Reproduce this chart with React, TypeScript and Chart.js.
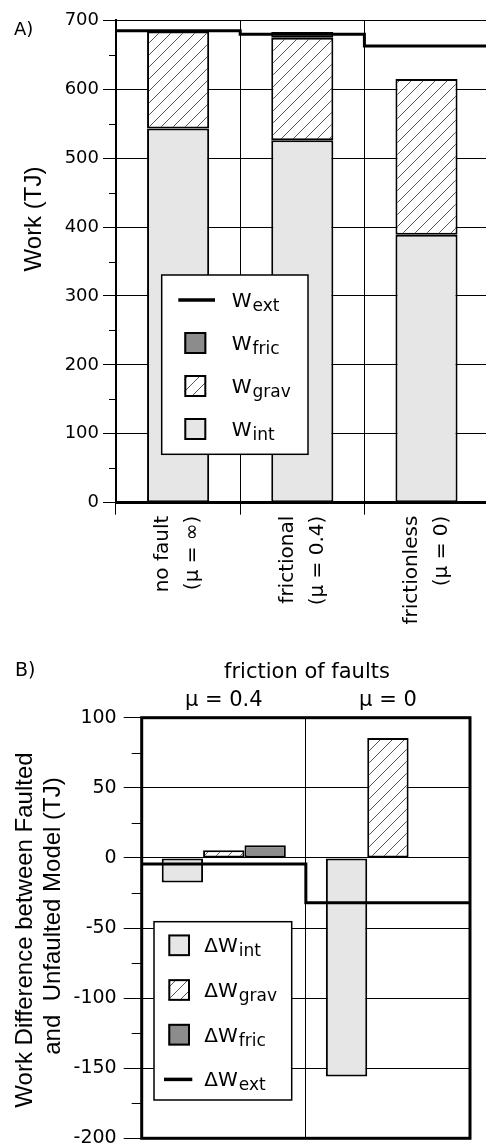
import React, { useEffect, useRef } from 'react';
import { Chart, registerables } from 'chart.js';

Chart.register(...registerables);

const FONT = "'DejaVu Sans', sans-serif";
const SANS = "'Liberation Sans', Arial, sans-serif";

// ---------- Panel A data ----------
const categoriesA = [
  ['no fault', '(μ = ∞)'],
  ['frictional', '(μ = 0.4)'],
  ['frictionless', '(μ = 0)'],
];
const wInt = [543, 526, 389];
const wGrav = [141, 149, 226];
const wFric = [null, 8, null];
const wExt = [685, 680, 663];
const minorTicksA = [50, 150, 250, 350, 450, 550, 650];
const yTitleA = 'Work (TJ)';
const panelLabelA = 'A)';

// ---------- Panel B data ----------
const categoriesB = ['μ = 0.4', 'μ = 0'];
const dInt = [-17.5, -156];
const dGrav = [5.5, 85.5];
const dFric = [9, null];
const dExt = [-4.3, -32];
const minorTicksB = [-175, -125, -75, -25, 25, 75];
const xTitleB = 'friction of faults';
const yTitleB1 = 'Work Difference between Faulted';
const yTitleB2 = 'and  Unfaulted Model (TJ)';
const panelLabelB = 'B)';

const legendA = [
  { main: 'W', sub: 'ext', kind: 'line' },
  { main: 'W', sub: 'fric', kind: 'fric' },
  { main: 'W', sub: 'grav', kind: 'grav' },
  { main: 'W', sub: 'int', kind: 'int' },
];
const legendB = [
  { main: 'ΔW', sub: 'int', kind: 'int' },
  { main: 'ΔW', sub: 'grav', kind: 'grav' },
  { main: 'ΔW', sub: 'fric', kind: 'fric' },
  { main: 'ΔW', sub: 'ext', kind: 'line' },
];

const INT_COLOR = '#e6e6e6';
const FRIC_COLOR = '#8c8c8c';

function makeHatch() {
  const c = document.createElement('canvas');
  c.width = 12;
  c.height = 12;
  const g = c.getContext('2d') as CanvasRenderingContext2D;
  g.fillStyle = '#fff';
  g.fillRect(0, 0, 12, 12);
  g.strokeStyle = '#555';
  g.lineWidth = 1;
  g.beginPath();
  g.moveTo(-1, 13);
  g.lineTo(13, -1);
  g.moveTo(-1, 1);
  g.lineTo(1, -1);
  g.moveTo(11, 13);
  g.lineTo(13, 11);
  g.stroke();
  const ctx = document.createElement('canvas').getContext('2d') as CanvasRenderingContext2D;
  return ctx.createPattern(c, 'repeat') as CanvasPattern;
}

function makeExtras(cfg: any) {
  return {
    id: 'extras',
    afterDatasetsDraw(chart: any) {
      // step line (external work) drawn through the chart's own scales
      const ctx = chart.ctx as CanvasRenderingContext2D;
      const xs = chart.scales.x;
      const ys = chart.scales.y;
      const vals: number[] = cfg.step;
      const n = vals.length;
      const half = (xs.getPixelForValue(1) - xs.getPixelForValue(0)) / 2;
      ctx.save();
      ctx.strokeStyle = '#000';
      ctx.lineWidth = 3;
      ctx.lineJoin = 'miter';
      ctx.beginPath();
      vals.forEach((v, i) => {
        const py = ys.getPixelForValue(v);
        const cx = xs.getPixelForValue(i);
        const x0 = i === 0 ? chart.chartArea.left : cx - half;
        const x1 = i === n - 1 ? chart.chartArea.right : cx + half;
        if (i === 0) ctx.moveTo(x0, py);
        else ctx.lineTo(x0, py);
        ctx.lineTo(x1, py);
      });
      ctx.stroke();
      ctx.restore();
    },
    afterDraw(chart: any) {
      const ctx = chart.ctx as CanvasRenderingContext2D;
      const area = chart.chartArea;
      const y = chart.scales.y;
      ctx.save();
      // minor ticks
      ctx.strokeStyle = '#000';
      ctx.lineWidth = 1;
      for (const v of cfg.minor) {
        const py = Math.round(y.getPixelForValue(v)) + 0.5;
        ctx.beginPath();
        ctx.moveTo(area.left - cfg.minorLen, py);
        ctx.lineTo(area.left, py);
        ctx.stroke();
      }
      // plot frame
      if (cfg.box) {
        ctx.lineWidth = cfg.box;
        ctx.strokeRect(area.left, area.top, area.right - area.left, area.bottom - area.top);
      }
      // legend
      const L = cfg.legend;
      ctx.fillStyle = '#fff';
      ctx.fillRect(L.x, L.y, L.w, L.h);
      ctx.strokeStyle = '#000';
      ctx.lineWidth = 1.5;
      ctx.strokeRect(L.x, L.y, L.w, L.h);
      L.items.forEach((it: any, i: number) => {
        const cy = L.firstY + i * L.step;
        ctx.strokeStyle = '#000';
        if (it.kind === 'line') {
          ctx.lineWidth = 3.5;
          ctx.beginPath();
          ctx.moveTo(L.lineX0, cy);
          ctx.lineTo(L.lineX1, cy);
          ctx.stroke();
        } else {
          const fill = it.kind === 'int' ? INT_COLOR : it.kind === 'fric' ? FRIC_COLOR : cfg.hatch;
          const s = L.box;
          ctx.fillStyle = fill;
          ctx.fillRect(L.boxX, cy - s / 2, s, s);
          ctx.lineWidth = 2;
          ctx.strokeRect(L.boxX + 1, cy - s / 2 + 1, s - 2, s - 2);
        }
        ctx.fillStyle = '#000';
        ctx.textAlign = 'left';
        ctx.textBaseline = 'alphabetic';
        ctx.font = `20px ${FONT}`;
        ctx.fillText(it.main, L.textX, cy + 7);
        const w = ctx.measureText(it.main).width;
        ctx.font = `17px ${FONT}`;
        ctx.fillText(it.sub, L.textX + w + 1, cy + 11);
      });
      // free texts
      for (const t of cfg.texts) {
        ctx.save();
        ctx.fillStyle = '#000';
        ctx.font = t.font;
        ctx.textAlign = t.align || 'left';
        ctx.textBaseline = 'alphabetic';
        ctx.translate(t.x, t.y);
        if (t.rotate) ctx.rotate(-Math.PI / 2);
        ctx.fillText(t.text, 0, 0);
        ctx.restore();
      }
      ctx.restore();
    },
  };
}

const barStyle = {
  borderColor: '#000',
  borderWidth: 2,
  borderSkipped: false,
};

function configA(): any {
  const hatch = makeHatch();
  const bar = { ...barStyle, barPercentage: 0.5, categoryPercentage: 1 };
  return {
    type: 'bar',
    data: {
      labels: categoriesA,
      datasets: [
        { label: 'Wint', data: wInt, backgroundColor: INT_COLOR, ...bar },
        { label: 'Wgrav', data: wGrav, backgroundColor: hatch, ...bar },
        { label: 'Wfric', data: wFric, backgroundColor: FRIC_COLOR, ...bar },
      ],
    },
    options: {
      responsive: false,
      animation: false,
      devicePixelRatio: 1,
      events: [],
      layout: { padding: { top: 20.4, right: 11.4, left: 0, bottom: 0 } },
      scales: {
        x: {
          stacked: true,
          offset: true,
          grid: { offset: true, color: '#000', lineWidth: 1, tickLength: 12, tickColor: '#000' },
          border: { color: '#000', width: 3 },
          ticks: {
            color: '#000', font: { family: FONT, size: 20, lineHeight: 1.5 },
            maxRotation: 90, minRotation: 90, autoSkip: false, padding: 1, labelOffset: -15,
          },
          afterFit: (s: any) => { s.height = 137.3; },
        },
        y: {
          stacked: true, min: 0, max: 700,
          ticks: { stepSize: 100, color: '#000', font: { family: FONT, size: 18 }, padding: 4 },
          grid: { color: '#000', lineWidth: 1, tickLength: 13, tickColor: '#000' },
          border: { color: '#000', width: 2 },
          afterFit: (s: any) => { s.width = 116; },
        },
      },
      plugins: { legend: { display: false }, tooltip: { enabled: false } },
    },
    plugins: [
      makeExtras({
        hatch,
        step: wExt,
        minor: minorTicksA,
        minorLen: 7,
        box: 0,
        legend: {
          x: 161.7, y: 275, w: 146.3, h: 179.3, firstY: 300, step: 43,
          lineX0: 178.3, lineX1: 215, boxX: 184.3, box: 22, textX: 231.7, items: legendA,
        },
        texts: [
          { text: panelLabelA, x: 14, y: 34.5, font: `18px ${FONT}` },
          { text: yTitleA, x: 41, y: 219, font: `24px ${SANS}`, align: 'center', rotate: true },
        ],
      }),
    ],
  };
}

function configB(): any {
  const hatch = makeHatch();
  const bar = { ...barStyle, barPercentage: 1, categoryPercentage: 0.756 };
  return {
    type: 'bar',
    data: {
      labels: categoriesB,
      datasets: [
        { label: 'ΔWint', data: dInt, backgroundColor: INT_COLOR, ...bar },
        { label: 'ΔWgrav', data: dGrav, backgroundColor: hatch, ...bar },
        { label: 'ΔWfric', data: dFric, backgroundColor: FRIC_COLOR, ...bar },
      ],
    },
    options: {
      responsive: false,
      animation: false,
      devicePixelRatio: 1,
      events: [],
      layout: { padding: { top: 0, right: 16, left: 0, bottom: 31.7 } },
      scales: {
        x: {
          position: 'top',
          offset: true,
          grid: { offset: true, color: '#000', lineWidth: 1, drawTicks: false },
          border: { display: false },
          ticks: { color: '#000', font: { family: FONT, size: 21 }, padding: 4.5, autoSkip: false, maxRotation: 0 },
          afterFit: (s: any) => { s.height = 77.7; },
        },
        y: {
          min: -200, max: 100,
          ticks: { stepSize: 50, color: '#000', font: { family: FONT, size: 19 }, padding: 7 },
          grid: { color: '#000', lineWidth: 1, tickLength: 18, tickColor: '#000' },
          border: { display: false },
          afterFit: (s: any) => { s.width = 141.7; },
        },
      },
      plugins: { legend: { display: false }, tooltip: { enabled: false } },
    },
    plugins: [
      makeExtras({
        hatch,
        step: dExt,
        minor: minorTicksB,
        minorLen: 10,
        box: 3,
        legend: {
          x: 154, y: 281.7, w: 137.7, h: 178.3, firstY: 305.3, step: 44.7,
          lineX0: 164, lineX1: 192.3, boxX: 168.3, box: 21.7, textX: 204.3, items: legendB,
        },
        texts: [
          { text: panelLabelB, x: 15, y: 36, font: `19px ${FONT}` },
          { text: xTitleB, x: 307, y: 38.3, font: `21px ${FONT}`, align: 'center' },
          { text: yTitleB1, x: 32, y: 290, font: `24px ${SANS}`, align: 'center', rotate: true },
          { text: yTitleB2, x: 59.5, y: 276, font: `24px ${SANS}`, align: 'center', rotate: true },
        ],
      }),
    ],
  };
}

function ChartCanvas({ make, width, height, top }: { make: () => any; width: number; height: number; top: number }) {
  const ref = useRef<HTMLCanvasElement | null>(null);
  useEffect(() => {
    const chart = new Chart(ref.current as HTMLCanvasElement, make());
    return () => chart.destroy();
  }, [make]);
  return (
    <canvas
      ref={ref}
      width={width}
      height={height}
      style={{ position: 'absolute', left: 0, top, width, height, display: 'block' }}
    />
  );
}

export default function App() {
  return (
    <div
      style={{
        position: 'absolute', left: 0, top: 0, width: 486, height: 1144,
        overflow: 'hidden', background: '#fff',
      }}
    >
      <ChartCanvas make={configA} width={500} height={640} top={0} />
      <ChartCanvas make={configB} width={486} height={530} top={640} />
    </div>
  );
}
